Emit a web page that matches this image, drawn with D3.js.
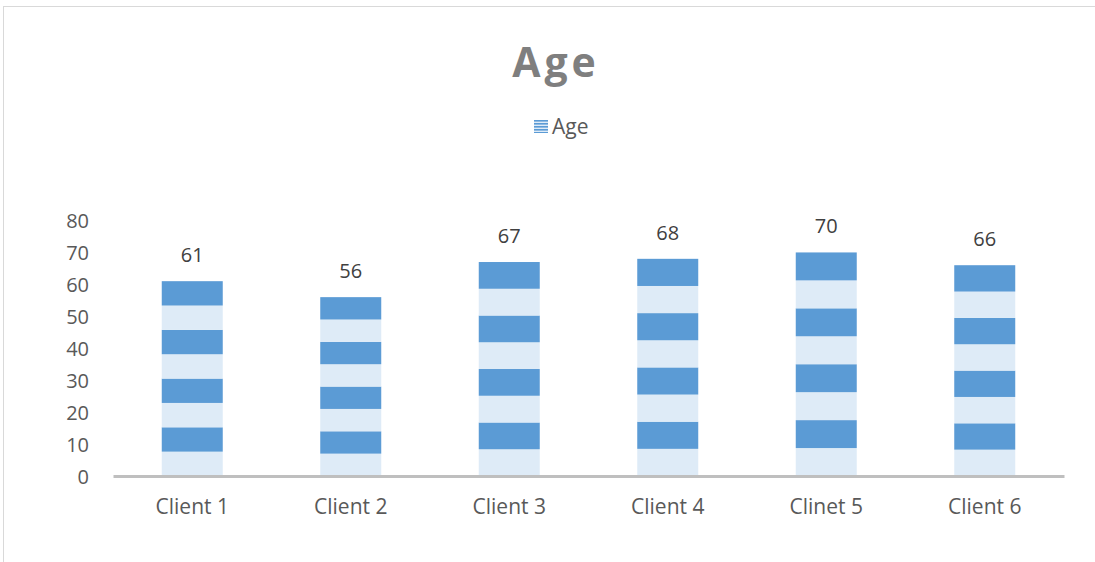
<!DOCTYPE html>
<html><head><meta charset="utf-8">
<script src="https://cdn.jsdelivr.net/npm/d3@7"></script>
<style>body{margin:0;background:#fff;} text{font-family:"Open Sans","Noto Sans",sans-serif;}</style>
</head><body>
<script>
const categories = ["Client 1","Client 2","Client 3","Client 4","Clinet 5","Client 6"];
const ages = [61,56,67,68,70,66];
const yTicks = [0,10,20,30,40,50,60,70,80];
const seriesName = "Age";

const W=1095,H=562;
const svg=d3.select("body").append("svg").attr("width",W).attr("height",H);
svg.append("rect").attr("x",3.5).attr("y",6.5).attr("width",W+10).attr("height",H+10)
  .attr("fill","#fff").attr("stroke","#d9d9d9").attr("stroke-width",1);

const defs=svg.append("defs");
const pat=defs.append("pattern").attr("id","legpat").attr("patternUnits","userSpaceOnUse")
  .attr("width",4).attr("height",3);
pat.append("rect").attr("width",4).attr("height",3).attr("fill","#deebf7");
pat.append("rect").attr("width",4).attr("height",1.6).attr("fill","#5b9bd5");

const x=d3.scaleBand().domain(categories).range([113,1064]);
const y=d3.scaleLinear().domain([0,80]).range([476,220.5]);
const bw=61;

// title
svg.append("text").attr("x",556).attr("y",77).attr("text-anchor","middle")
  .attr("font-size",41).attr("font-weight","bold").attr("fill","#7f7f7f")
  .attr("letter-spacing",4).text(seriesName);
// legend
svg.append("rect").attr("x",534).attr("y",120).attr("width",14).attr("height",13).attr("fill","url(#legpat)");
svg.append("text").attr("x",552).attr("y",134).attr("font-size",21).attr("fill","#595959").text(seriesName);

// y axis labels
const yAxis=d3.axisLeft(y).tickValues(yTicks).tickSize(0).tickPadding(0);
const gy=svg.append("g").attr("transform","translate(89,0)").call(yAxis);
gy.select(".domain").remove();
gy.selectAll("text").attr("font-size",20).attr("fill","#595959").attr("dy","0.36em")
  .style("font-family","'Open Sans','Noto Sans',sans-serif");

// bars with 8 bands
const g=svg.append("g");
categories.forEach((c,i)=>{
  const v=ages[i];
  const cx=x(c)+x.bandwidth()/2;
  d3.range(8).forEach(k=>{
    g.append("rect").attr("x",cx-bw/2).attr("width",bw)
      .attr("y",y(v*(k+1)/8)).attr("height",y(v*k/8)-y(v*(k+1)/8))
      .attr("fill",k%2===0?"#deebf7":"#5b9bd5");
  });
  svg.append("text").attr("x",cx).attr("y",y(v)-19).attr("text-anchor","middle")
    .attr("font-size",20).attr("fill","#404040").text(v);
});

// x axis
const xAxis=d3.axisBottom(x).tickSize(0).tickPadding(0);
const gx=svg.append("g").attr("transform","translate(0,476)").call(xAxis);
gx.select(".domain").attr("stroke","#bfbfbf").attr("stroke-width",3);
gx.selectAll("text").attr("font-size",21).attr("fill","#595959").attr("dy",0).attr("y",38)
  .style("font-family","'Open Sans','Noto Sans',sans-serif");
</script>
</body></html>
